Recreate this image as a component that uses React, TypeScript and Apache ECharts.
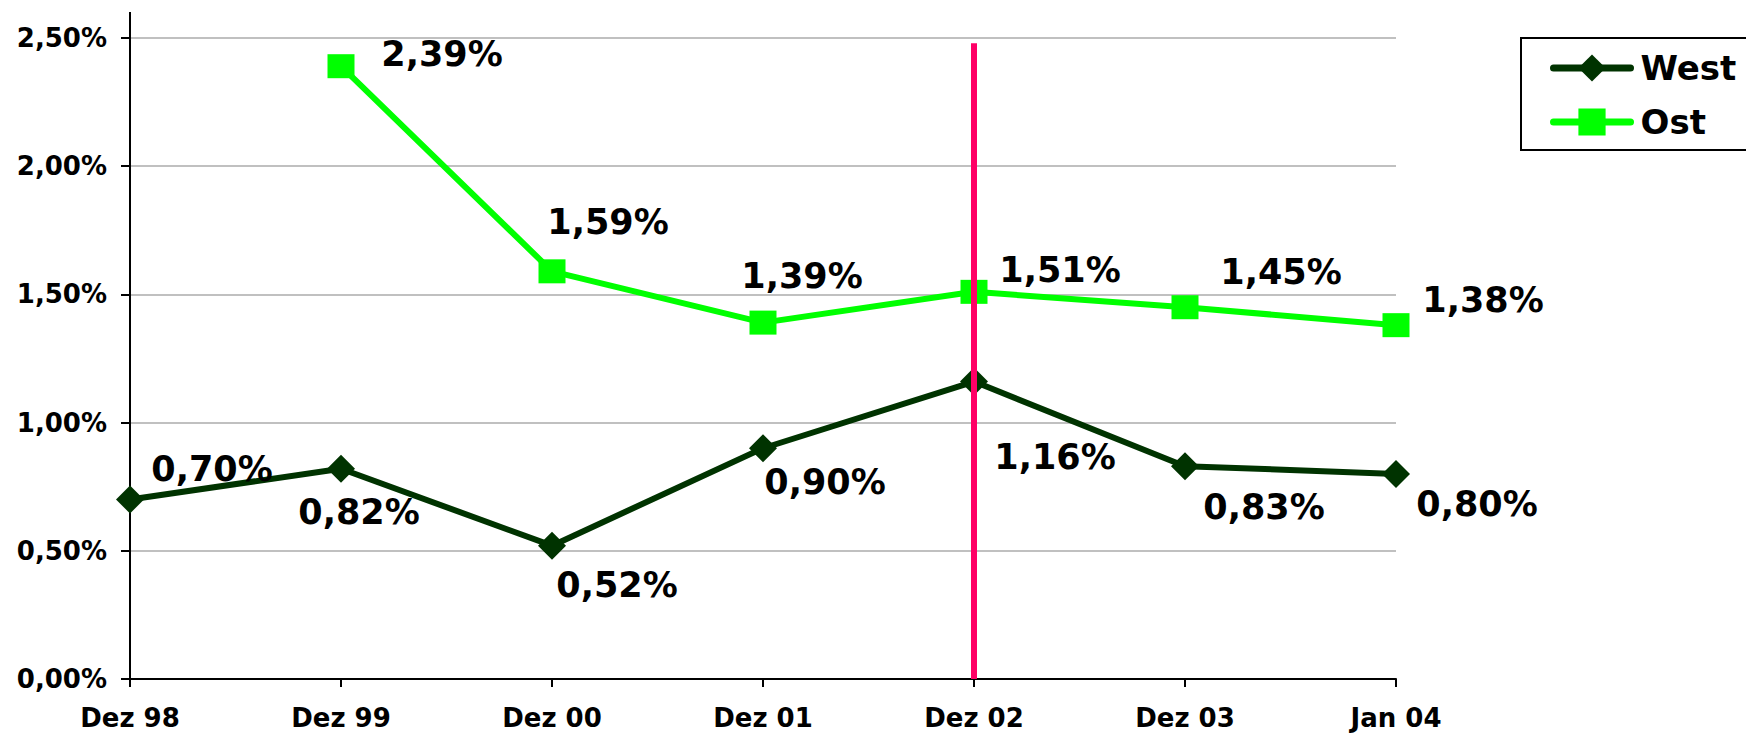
import React, { useEffect, useRef } from "react";
import * as echarts from "echarts";

const categories = ["Dez 98", "Dez 99", "Dez 00", "Dez 01", "Dez 02", "Dez 03", "Jan 04"];
const westValues = [0.7, 0.82, 0.52, 0.9, 1.16, 0.83, 0.8];
const ostValues: (number | null)[] = [null, 2.39, 1.59, 1.39, 1.51, 1.45, 1.38];
const westLabelOffsets = [[82, -31], [18, 43], [65, 39], [62, 34], [81, 75], [79, 41], [81, 30]];
const ostLabelOffsets = [[0, 0], [101, -12], [56, -49], [39, -47], [86, -22], [96, -35], [87, -25]];
const markerCategory = "Dez 02";
const markerTop = 2.48;

const FONT = "DejaVu Sans";
const fmt = (v: number) => v.toFixed(2).replace(".", ",") + "%";

export default function App() {
  const ref = useRef<HTMLDivElement>(null);
  useEffect(() => {
    if (!ref.current) return;
    const chart = echarts.init(ref.current, null, { renderer: "svg" });
    const labelBase = {
      show: true,
      position: "inside",
      color: "#000",
      fontFamily: FONT,
      fontWeight: "bold",
      fontSize: 35,
      formatter: (p: any) => fmt(p.value as number),
    };
    chart.setOption({
      animation: false,
      backgroundColor: "#fff",
      grid: { left: 130, right: 350, top: 38, bottom: 55, containLabel: false },
      legend: {
        left: 1521,
        top: 38,
        orient: "vertical",
        padding: [13, 40, 11, 29],
        itemWidth: 77,
        itemHeight: 34,
        itemGap: 20,
        borderColor: "#000",
        borderWidth: 2,
        backgroundColor: "#fff",
        lineStyle: { width: 7, cap: "round" },
        textStyle: {
          fontFamily: FONT,
          fontWeight: "bold",
          fontSize: 34,
          lineHeight: 34,
          color: "#000",
          padding: [0, 0, 0, 5],
        },
        data: ["West", "Ost"],
      },
      xAxis: {
        type: "category",
        data: categories,
        boundaryGap: false,
        axisLine: { lineStyle: { color: "#000", width: 2 } },
        axisTick: { show: true, length: 8, lineStyle: { color: "#000", width: 2 } },
        axisLabel: {
          fontFamily: FONT,
          fontWeight: "bold",
          fontSize: 26,
          color: "#000",
          margin: 26,
        },
        splitLine: { show: false },
      },
      yAxis: {
        type: "value",
        min: 0,
        max: 2.5,
        interval: 0.5,
        axisLine: { show: true, lineStyle: { color: "#000", width: 2 } },
        axisTick: { show: true, length: 9, lineStyle: { color: "#000", width: 2 } },
        axisLabel: {
          fontFamily: FONT,
          fontWeight: "bold",
          fontSize: 26,
          color: "#000",
          margin: 23,
          formatter: (v: number) => fmt(v),
        },
        splitLine: { show: true, lineStyle: { color: "#c0c0c0", width: 2 } },
      },
      graphic: [
        {
          type: "line",
          shape: { x1: 130, y1: 12, x2: 130, y2: 39 },
          style: { stroke: "#000", lineWidth: 2 },
          z: 10,
        },
      ],
      series: [
        {
          name: "West",
          type: "line",
          data: westValues.map((v, i) => ({
            value: v,
            label: { offset: westLabelOffsets[i] },
          })),
          symbol: "diamond",
          symbolSize: 28,
          lineStyle: { color: "#003300", width: 6 },
          itemStyle: { color: "#003300" },
          label: labelBase,
          z: 3,
          markLine: {
            silent: true,
            symbol: ["none", "none"],
            label: { show: false },
            lineStyle: { color: "#FF0066", width: 6, type: "solid" },
            data: [[{ coord: [markerCategory, 0] }, { coord: [markerCategory, markerTop] }]],
          },
        },
        {
          name: "Ost",
          type: "line",
          data: ostValues.map((v, i) =>
            v == null ? null : { value: v, label: { offset: ostLabelOffsets[i] } }
          ),
          symbol: "rect",
          symbolSize: [27, 24],
          lineStyle: { color: "#00FF00", width: 6 },
          itemStyle: { color: "#00FF00" },
          label: labelBase,
          z: 3,
        },
      ],
    });
    return () => chart.dispose();
  }, []);
  return (
    <div
      ref={ref}
      style={{ position: "fixed", left: 0, top: 0, width: 1746, height: 734, background: "#fff" }}
    />
  );
}
